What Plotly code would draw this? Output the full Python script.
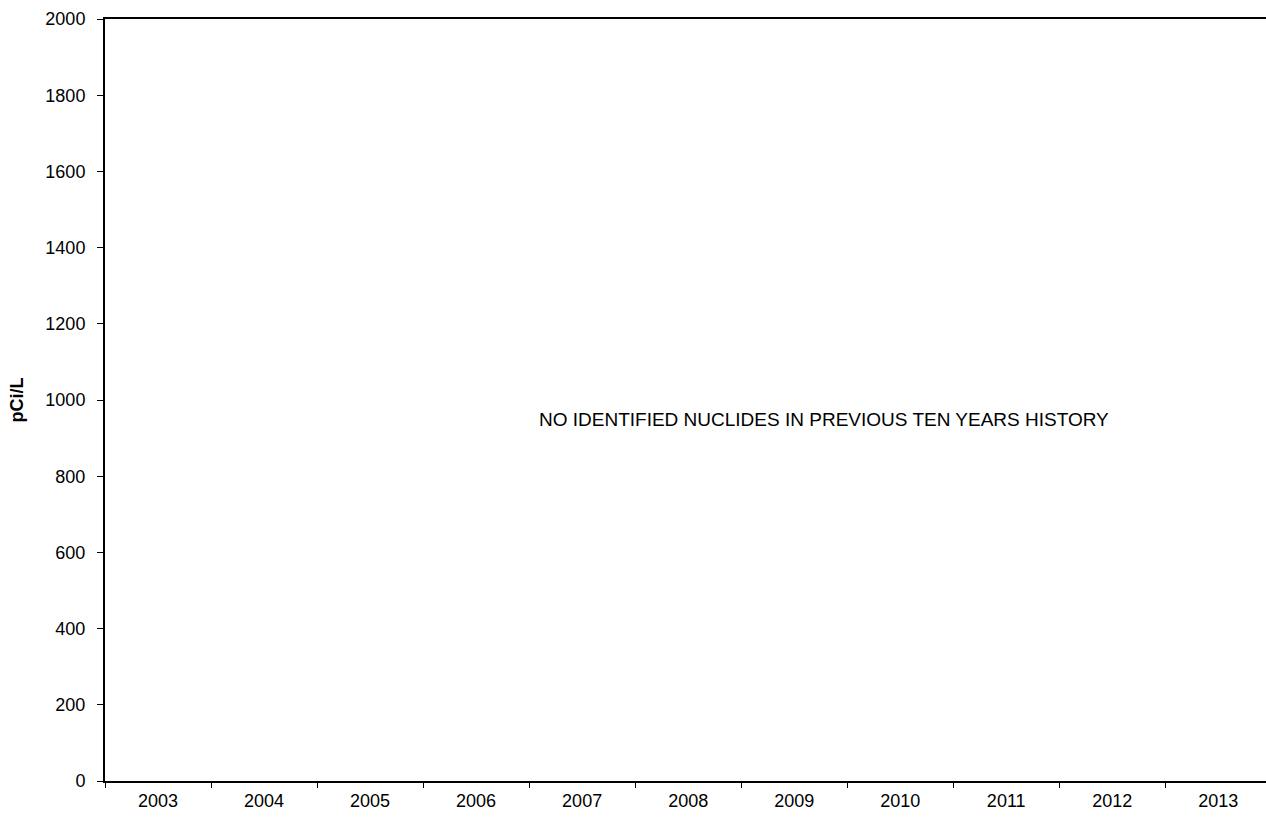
import plotly.graph_objects as go

# Sampling years on the category axis
years = ["2003", "2004", "2005", "2006", "2007", "2008", "2009", "2010", "2011", "2012", "2013"]
# No identified nuclides: no measured concentrations for any year
values = [None] * len(years)

y_ticks = [0, 200, 400, 600, 800, 1000, 1200, 1400, 1600, 1800, 2000]

note = "NO IDENTIFIED NUCLIDES IN PREVIOUS TEN YEARS HISTORY"

fig = go.Figure()
fig.add_trace(go.Scatter(x=years, y=values, mode="lines+markers",
                         line=dict(color="black"), showlegend=False))

family = "Liberation Sans, Arial, sans-serif"
font = dict(family=family, size=18, color="black")

fig.update_layout(
    width=1266, height=817,
    margin=dict(l=105, r=0, t=19, b=36),
    paper_bgcolor="white", plot_bgcolor="white",
    font=font,
    showlegend=False,
    xaxis=dict(
        type="category", categoryorder="array", categoryarray=years,
        tickson="boundaries", ticks="outside", ticklen=5, tickcolor="black",
        showline=True, linecolor="black", linewidth=2, mirror=True,
        showgrid=False, zeroline=False, ticklabelstandoff=2,
        range=[-0.5, len(years) - 0.55],
        tickfont=dict(family=family, size=18, color="black"),
    ),
    yaxis=dict(
        range=[0, 2000], tickvals=y_ticks, ticks="outside", ticklen=6, tickcolor="black",
        showline=True, linecolor="black", linewidth=2,
        showgrid=False, zeroline=False, ticklabelstandoff=8,
        tickfont=dict(family=family, size=18, color="black"),
        title=dict(text="<b>pCi/L</b>", font=dict(family=family, size=18, color="black"),
                   standoff=17),
    ),
    annotations=[dict(
        x=0.6195, y=948, xref="paper", yref="y",
        text=note, showarrow=False,
        font=dict(family=family, size=19, color="black"),
        xanchor="center", yanchor="middle",
    )],
)

fig.write_html("out.html")
